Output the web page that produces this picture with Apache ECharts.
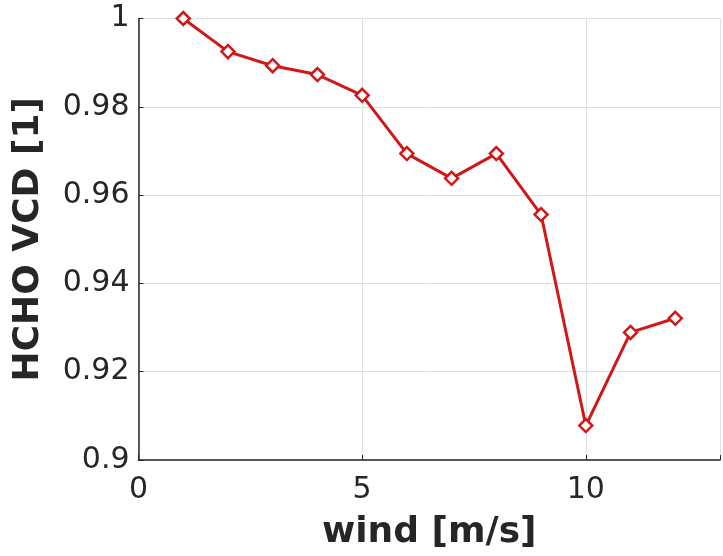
<!DOCTYPE html>
<html><head><meta charset="utf-8">
<script src="https://cdn.jsdelivr.net/npm/echarts@6/dist/echarts.min.js"></script>
<style>html,body{margin:0;padding:0;background:#fff}#c{width:723px;height:556px}</style>
</head><body><div id="c"></div>
<script>
const windSpeed = [1, 2, 3, 4, 5, 6, 7, 8, 9, 10, 11, 12];
const hchoVcd = [1.0, 0.9925, 0.9893, 0.9873, 0.9826, 0.9694, 0.9638, 0.9694, 0.9556, 0.9078, 0.9289, 0.9321];
const yTicks = [0.9, 0.92, 0.94, 0.96, 0.98, 1];

const chart = echarts.init(document.getElementById('c'));
const font = 'DejaVu Sans';
chart.setOption({
  animation: false,
  grid: {left: 138.5, right: -1, top: 18.5, bottom: 91.5, containLabel: false},
  xAxis: {
    type: 'value', min: 0, max: 13, interval: 5,
    name: 'wind [m/s]', nameLocation: 'middle', nameGap: 55,
    nameTextStyle: {fontFamily: font, fontSize: 36, fontWeight: 'bold', color: '#262626'},
    axisLine: {show: true, lineStyle: {color: '#262626', width: 1.5}},
    axisTick: {show: true, inside: true, length: 5, lineStyle: {color: '#262626'}},
    axisLabel: {fontFamily: font, fontSize: 30, color: '#262626', margin: 15,
      formatter: v => (v % 5 === 0 ? String(v) : '')},
    splitLine: {show: true, lineStyle: {color: '#e0e0e0', width: 1}}
  },
  yAxis: {
    type: 'value', min: 0.9, max: 1, interval: 0.02,
    name: 'HCHO VCD [1]', nameLocation: 'middle', nameGap: 92,
    nameTextStyle: {fontFamily: font, fontSize: 36, fontWeight: 'bold', color: '#262626'},
    axisLine: {show: true, lineStyle: {color: '#262626', width: 1.5}},
    axisTick: {show: true, inside: true, length: 5, lineStyle: {color: '#262626'}},
    axisLabel: {fontFamily: font, fontSize: 30, color: '#262626', margin: 9,
      formatter: v => { const t = yTicks.find(y => Math.abs(y - v) < 1e-9); return t === undefined ? '' : String(t); }},
    splitLine: {show: true, lineStyle: {color: '#e0e0e0', width: 1}}
  },
  series: [{
    type: 'line',
    data: windSpeed.map((w, i) => [w, hchoVcd[i]]),
    symbol: 'diamond', symbolSize: 13, showSymbol: true,
    lineStyle: {color: '#d01818', width: 3},
    itemStyle: {color: '#fff', borderColor: '#d01818', borderWidth: 2.5}
  }]
});
</script></body></html>
